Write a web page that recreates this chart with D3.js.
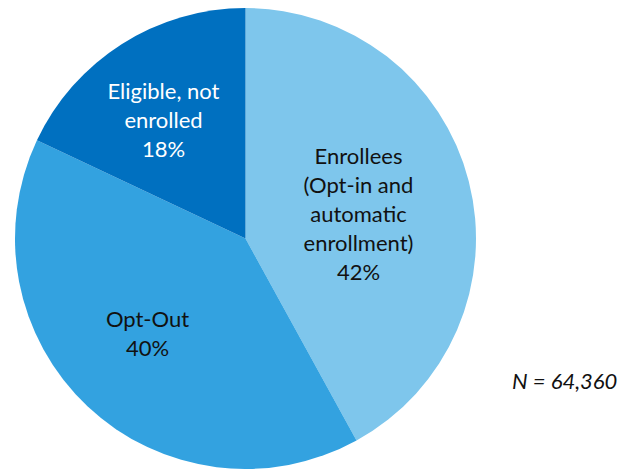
<!DOCTYPE html>
<html><head><meta charset="utf-8">
<script src="https://cdn.jsdelivr.net/npm/d3@7"></script>
<style>body{margin:0;background:#fff}svg{display:block}text{font-family:Lato,"Open Sans",sans-serif}</style>
</head><body>
<svg id="c" width="630" height="469"></svg>
<script>
const categories = ["Enrollees (Opt-in and automatic enrollment)", "Opt-Out", "Eligible, not enrolled"];
const values = [42, 40, 18];
const labelLines = [["Enrollees","(Opt-in and","automatic","enrollment)","42%"],["Opt-Out","40%"],["Eligible, not","enrolled","18%"]];
const colors = ["#7EC6EC", "#33A2E0", "#0070C0"];
const textColors = ["#111", "#111", "#fff"];
const note = "N = 64,360";

const svg = d3.select("#c");
const cx = 245.5, cy = 238.5, r = 230.5;
const g = svg.append("g").attr("transform", `translate(${cx},${cy})`);
const pie = d3.pie().sort(null).value(d => d)(values);
const arc = d3.arc().innerRadius(0).outerRadius(r);
g.selectAll("path").data(pie).join("path").attr("d", arc).attr("fill", (d,i) => colors[i]);

const labelPos = [[113, -24], [-98, 95], [-82, -118]];
const lh = 29;
pie.forEach((d, i) => {
  const lines = labelLines[i];
  const t = g.append("text").attr("text-anchor", "middle").attr("fill", textColors[i]).attr("font-size", 22);
  const y0 = labelPos[i][1] - (lines.length - 1) * lh / 2;
  lines.forEach((l, k) => t.append("tspan").attr("x", labelPos[i][0]).attr("y", y0 + k * lh).attr("dy", "0.35em").text(l));
});
svg.append("text").attr("x", 512).attr("y", 381).attr("dy", "0.35em").attr("font-size", 22).attr("font-style", "italic").attr("fill", "#111").text(note);
</script>
</body></html>
